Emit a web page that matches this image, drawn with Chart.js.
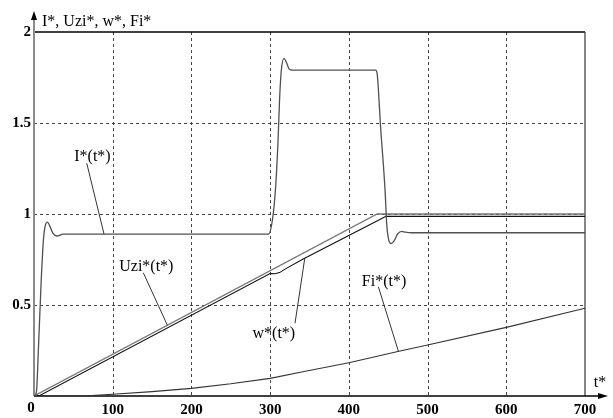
<!DOCTYPE html>
<html>
<head>
<meta charset="utf-8">
<script src="https://cdn.jsdelivr.net/npm/chart.js@4.4.1/dist/chart.umd.min.js"></script>
<style>
  html, body { margin: 0; padding: 0; background: #fff; }
  canvas { display: block; }
</style>
</head>
<body>
<canvas id="chart" width="613" height="418"></canvas>
<script>
// I*(t*) - current
const tCurrent = [0, 3, 6, 9, 12, 14, 17, 20, 24, 29, 37, 298, 303, 307, 310, 312, 314, 317.5, 321, 324, 328,
                  434, 436, 438, 440, 446, 448, 450, 453.5, 457, 462, 467, 472, 480, 700];
const current = [0, 0.02, 0.3, 0.62, 0.86, 0.93, 0.955, 0.935, 0.895, 0.879, 0.889, 0.889, 0.97, 1.15, 1.4, 1.63, 1.78, 1.855, 1.83, 1.797, 1.79,
                 1.79, 1.77, 1.65, 1.5, 1.13, 0.95, 0.87, 0.838, 0.85, 0.89, 0.905, 0.9, 0.897, 0.897];

// Uzi*(t*) - setpoint integrator
const tUzi = [0, 436, 700];
const uzi = [0, 1, 1];

// w*(t*) - speed
const tSpeed = [0, 8, 300, 306, 312, 320, 342, 440, 447, 700];
const speed = [0, 0.004, 0.673, 0.672, 0.678, 0.7, 0.753, 0.971, 0.987, 0.987];

// Fi*(t*) - flux
const tFlux = [0, 73, 100, 150, 200, 250, 300, 340, 400, 465, 500, 600, 700];
const flux = [0, 0.002, 0.01, 0.024, 0.042, 0.067, 0.097, 0.132, 0.183, 0.247, 0.28, 0.377, 0.482];

const xGrid = [100, 200, 300, 400, 500, 600];
const yGrid = [0.5, 1, 1.5];

// curve labels: text position and leader line (data units)
const curveLabels = [
    { text: 'I*(t*)', at: [74.3, 1.313], from: [67, 1.279], to: [89, 0.889] },
    { text: 'Uzi*(t*)', at: [142.7, 0.71], from: [138.9, 0.677], to: [169.4, 0.389] },
    { text: 'w*(t*)', at: [304.7, 0.344], from: [331.6, 0.4], to: [344, 0.757] },
    { text: 'Fi*(t*)', at: [444.7, 0.63], from: [437.5, 0.6], to: [463, 0.245] },
];

const FONT = 'Liberation Serif, "Times New Roman", serif';

function pts(ts, vs) {
    return ts.map((t, i) => ({ x: t, y: vs[i] }));
}

const decor = {
    id: 'decor',
    beforeDatasetsDraw(chart) {
        const { ctx, scales: { x, y } } = chart;
        ctx.save();
        // dashed grid
        ctx.strokeStyle = '#444';
        ctx.lineWidth = 1;
        ctx.setLineDash([3, 3]);
        xGrid.forEach(t => {
            const px = Math.round(x.getPixelForValue(t)) + 0.5;
            ctx.beginPath();
            ctx.moveTo(px, y.top);
            ctx.lineTo(px, y.bottom);
            ctx.stroke();
        });
        yGrid.forEach(v => {
            const py = Math.round(y.getPixelForValue(v)) + 0.5;
            ctx.beginPath();
            ctx.moveTo(x.left, py);
            ctx.lineTo(x.right, py);
            ctx.stroke();
        });
        ctx.setLineDash([]);

        // top and right frame
        ctx.strokeStyle = '#000';
        ctx.lineWidth = 1.3;
        ctx.beginPath();
        ctx.moveTo(x.left, y.getPixelForValue(2));
        ctx.lineTo(x.getPixelForValue(700), y.getPixelForValue(2));
        ctx.stroke();
        ctx.strokeStyle = '#444';
        ctx.beginPath();
        ctx.moveTo(x.getPixelForValue(700), y.top);
        ctx.lineTo(x.getPixelForValue(700), y.bottom);
        ctx.stroke();

        // y axis with arrow
        const x0 = x.getPixelForValue(0);
        const y0 = y.getPixelForValue(0);
        ctx.strokeStyle = '#8a8a8a';
        ctx.lineWidth = 2;
        ctx.beginPath();
        ctx.moveTo(x0, y0);
        ctx.lineTo(x0, y.top - 16);
        ctx.stroke();
        ctx.fillStyle = '#000';
        ctx.beginPath();
        ctx.moveTo(x0, y.top - 21);
        ctx.lineTo(x0 - 3, y.top - 12);
        ctx.lineTo(x0 + 3, y.top - 12);
        ctx.closePath();
        ctx.fill();

        // x axis with arrow
        ctx.strokeStyle = '#000';
        ctx.lineWidth = 1.5;
        ctx.beginPath();
        ctx.moveTo(x0, y0);
        ctx.lineTo(x.right + 16, y0);
        ctx.stroke();
        ctx.beginPath();
        ctx.moveTo(x.right + 23, y0);
        ctx.lineTo(x.right + 13, y0 - 3);
        ctx.lineTo(x.right + 13, y0 + 3);
        ctx.closePath();
        ctx.fill();
        ctx.restore();
    },
    afterDraw(chart) {
        const { ctx, scales: { x, y } } = chart;
        ctx.save();
        ctx.fillStyle = '#000';
        ctx.font = '16px ' + FONT;

        // axis titles
        ctx.textAlign = 'left';
        ctx.textBaseline = 'alphabetic';
        ctx.fillText('I*, Uzi*, w*, Fi*', x.left + 8, y.top - 6);
        ctx.textAlign = 'center';
        ctx.textBaseline = 'middle';
        ctx.fillText('t*', x.right + 15, y.bottom - 13);
        // shared origin label
        ctx.font = 'bold 15px ' + FONT;
        ctx.textBaseline = 'top';
        ctx.fillText('0', x.left - 3, y.bottom + 5);

        // curve labels with leader lines
        ctx.font = '16px ' + FONT;
        ctx.strokeStyle = '#333';
        ctx.lineWidth = 1;
        curveLabels.forEach(l => {
            ctx.beginPath();
            ctx.moveTo(x.getPixelForValue(l.from[0]), y.getPixelForValue(l.from[1]));
            ctx.lineTo(x.getPixelForValue(l.to[0]), y.getPixelForValue(l.to[1]));
            ctx.stroke();
            ctx.textBaseline = 'middle';
            ctx.fillText(l.text, x.getPixelForValue(l.at[0]), y.getPixelForValue(l.at[1]));
        });
        ctx.restore();
    },
};

const ctx = document.getElementById('chart').getContext('2d');
new Chart(ctx, {
    type: 'line',
    data: {
        datasets: [
            { label: 'I*', data: pts(tCurrent, current), borderColor: '#505050', borderWidth: 1.3, cubicInterpolationMode: 'monotone' },
            { label: 'Uzi*', data: pts(tUzi, uzi), borderColor: '#777', borderWidth: 1.3 },
            { label: 'w*', data: pts(tSpeed, speed), borderColor: '#111', borderWidth: 1.1 },
            { label: 'Fi*', data: pts(tFlux, flux), borderColor: '#333', borderWidth: 1.1 },
        ],
    },
    options: {
        responsive: false,
        animation: false,
        devicePixelRatio: 1,
        elements: { point: { radius: 0 }, line: { tension: 0 } },
        layout: { padding: { top: 32, right: 28, left: 0, bottom: 0 } },
        plugins: { legend: { display: false }, tooltip: { enabled: false } },
        scales: {
            x: {
                type: 'linear',
                min: 0,
                max: 700,
                grid: { display: false, drawTicks: false },
                border: { display: false },
                ticks: {
                    stepSize: 100,
                    padding: 5,
                    color: '#000',
                    font: { family: FONT, size: 15, weight: 'bold' },
                    maxRotation: 0,
                    callback: v => (v === 0 ? '' : v),
                },
                afterFit: s => { s.height = 22; },
            },
            y: {
                min: 0,
                max: 2,
                grid: { display: false, drawTicks: false },
                border: { display: false },
                ticks: {
                    stepSize: 0.5,
                    padding: 3,
                    color: '#000',
                    font: { family: FONT, size: 15, weight: 'bold' },
                    callback: v => (v === 0 ? '' : v),
                },
                afterFit: s => { s.width = 34; },
            },
        },
    },
    plugins: [decor],
});
</script>
</body>
</html>
